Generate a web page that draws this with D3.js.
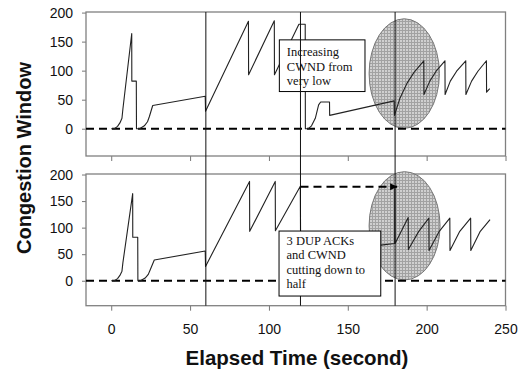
<!DOCTYPE html>
<html>
<head>
<meta charset="utf-8">
<script src="https://cdn.jsdelivr.net/npm/d3@7"></script>
<style>
  body { margin: 0; background: #fff; }
  svg { display: block; }
</style>
</head>
<body>
<svg id="chart" width="525" height="373"></svg>
<script>
// values
const xTicks = [0, 50, 100, 150, 200, 250];
const yTicks = [0, 50, 100, 150, 200];
const phaseBounds = [60, 120, 180];

const timeTop = [0, 2, 4, 5.5, 6.8, 7.4, 13, 13.05, 15.9, 16, 18, 21, 23, 24.2, 26.3, 59.6, 59.8,
    87, 87.1, 103.4, 103.5, 119, 123, 123.1, 125, 127, 129.4, 131.5, 132.8, 138.4, 138.5, 179.4, 179.6,
    183, 187.7, 192, 198.2, 198.3, 202, 206, 211.6, 211.7, 215, 219, 224.8, 224.9, 228.5, 232.5, 237.9, 238, 240];
const cwndTop = [0, 0, 4, 10, 18, 34, 164, 82, 82, 0, 0, 5, 12, 21, 40, 56, 30,
    185, 93, 186, 93, 180, 180, 0, 0, 5, 18, 41, 46, 46, 23, 48, 23,
    52, 79, 97, 117, 59, 82, 99, 117, 59, 82, 99, 117, 59, 82, 99, 117, 63, 69];

const timeBottom = [0, 2, 4, 5.5, 6.8, 7.4, 13.6, 13.65, 16.8, 16.9, 18.5, 21.5, 23.5, 24.8, 27.3, 59.6, 59.8,
    87.7, 87.8, 104, 104.1, 119.9, 120.1, 171, 179.7, 179.8, 180,
    188.3, 188.4, 195, 201.4, 201.5, 208, 214.7, 214.8, 221, 227.9, 228, 234, 240.2];
const cwndBottom = [0, 0, 4, 10, 18, 34, 164, 82, 82, 0, 0, 5, 12, 21, 39, 56, 27,
    187, 93, 187, 94, 178, 60, 67, 70, 178, 70,
    119, 59, 93, 118, 57, 93, 118, 57, 93, 118, 57, 93, 115];

const noteTop = ["Increasing", "CWND from", "very low"];
const noteBottom = ["3 DUP ACKs", "and CWND", "cutting down to", "half"];

const svg = d3.select("#chart");
const defs = svg.append("defs");

// crosshatch fill of the ellipses
const pat = defs.append("pattern")
    .attr("id", "hatch")
    .attr("width", 3).attr("height", 3)
    .attr("patternUnits", "userSpaceOnUse");
pat.append("rect").attr("width", 3).attr("height", 3).attr("fill", "#d0d0d0");
pat.append("path").attr("d", "M0,0.5H3M0.5,0V3").attr("stroke", "#a2a2a2").attr("stroke-width", 1);

defs.append("marker")
    .attr("id", "arrowhead")
    .attr("viewBox", "0 0 10 10")
    .attr("refX", 10).attr("refY", 5)
    .attr("markerWidth", 7).attr("markerHeight", 7)
    .attr("markerUnits", "userSpaceOnUse")
    .attr("orient", "auto")
    .append("path")
    .attr("d", "M0,0L10,5L0,10Z")
    .attr("fill", "#000");

const left = 86, right = 505.5;
const x = d3.scaleLinear().domain([-16, 250]).range([left, right]);

const panels = [
    { top: 12, bottom: 156, time: timeTop, cwnd: cwndTop, labels: false,
      ellipse: { t: 185.8, v: 95, rt: 22.3, rv: 94.3 } },
    { top: 174, bottom: 305.7, time: timeBottom, cwnd: cwndBottom, labels: true,
      ellipse: { t: 186, v: 103.4, rt: 22.5, rv: 102 } }
];

panels.forEach(p => {
    p.y = d3.scaleLinear().domain([-47, 201]).range([p.bottom, p.top]);
});

const font = "Liberation Sans, Arial, sans-serif";
const serif = "Liberation Serif, Times New Roman, serif";

// axes and frames
panels.forEach(p => {
    const g = svg.append("g");

    const yAxis = g.append("g")
        .attr("transform", `translate(${left},0)`)
        .call(d3.axisLeft(p.y).tickValues(yTicks).tickSize(4).tickPadding(9));
    yAxis.select(".domain").remove();
    yAxis.selectAll("line").attr("stroke", "#777");
    yAxis.selectAll("text").attr("font-family", font).attr("font-size", 14).attr("fill", "#111");

    const xAxis = g.append("g")
        .attr("transform", `translate(0,${p.bottom})`)
        .call(d3.axisBottom(x).tickValues(xTicks).tickSize(5).tickPadding(13));
    xAxis.select(".domain").remove();
    xAxis.selectAll("line").attr("stroke", "#777");
    if (p.labels) {
        xAxis.selectAll("text").attr("font-family", font).attr("font-size", 14).attr("fill", "#111");
    } else {
        xAxis.selectAll("text").remove();
    }

    g.append("rect")
        .attr("x", left).attr("y", p.top)
        .attr("width", right - left).attr("height", p.bottom - p.top)
        .attr("fill", "none")
        .attr("stroke", "#808080")
        .attr("stroke-width", 1.3);
});

// hatched ellipses
panels.forEach(p => {
    const e = p.ellipse;
    svg.append("ellipse")
        .attr("cx", x(e.t))
        .attr("cy", p.y(e.v))
        .attr("rx", x(e.t + e.rt) - x(e.t))
        .attr("ry", p.y(e.v - e.rv) - p.y(e.v))
        .attr("fill", "url(#hatch)")
        .attr("stroke", "#777")
        .attr("stroke-width", 1);
});

// zero reference lines
panels.forEach(p => {
    svg.append("line")
        .attr("x1", left).attr("x2", right)
        .attr("y1", p.y(0)).attr("y2", p.y(0))
        .attr("stroke", "#000")
        .attr("stroke-width", 2)
        .attr("stroke-dasharray", "8,5");
});

// congestion window traces
panels.forEach(p => {
    const line = d3.line()
        .x(i => x(p.time[i]))
        .y(i => p.y(p.cwnd[i]));
    svg.append("path")
        .datum(d3.range(p.time.length))
        .attr("fill", "none")
        .attr("stroke", "#222")
        .attr("stroke-width", 1.1)
        .attr("stroke-linejoin", "round")
        .attr("d", line);
});

const noteBox = (p, t0, t1, v0, v1, lines, firstBase) => {
    const g = svg.append("g");
    g.append("rect")
        .attr("x", x(t0)).attr("y", p.y(v0))
        .attr("width", x(t1) - x(t0))
        .attr("height", p.y(v1) - p.y(v0))
        .attr("fill", "#fff")
        .attr("stroke", "#000")
        .attr("stroke-width", 1);
    g.selectAll("text")
        .data(lines)
        .join("text")
        .attr("x", x(t0) + 7.5)
        .attr("y", (d, i) => p.y(v0) + firstBase + i * 14.3)
        .attr("font-family", serif)
        .attr("font-size", 12.5)
        .attr("fill", "#111")
        .text(d => d);
};

// top annotation sits under the phase lines
noteBox(panels[0], 106.6, 160.9, 153, 64, noteTop, 16.5);

// phase separators run through both panels
svg.selectAll(".phase")
    .data(phaseBounds)
    .join("line")
    .attr("class", "phase")
    .attr("x1", d => x(d)).attr("x2", d => x(d))
    .attr("y1", panels[0].top).attr("y2", panels[1].bottom)
    .attr("stroke", "#111")
    .attr("stroke-width", 1);

// dashed arrow in the lower panel
const pb = panels[1];
svg.append("line")
    .attr("x1", x(120)).attr("x2", x(181.3))
    .attr("y1", pb.y(177)).attr("y2", pb.y(177))
    .attr("stroke", "#000")
    .attr("stroke-width", 2)
    .attr("stroke-dasharray", "8,5")
    .attr("marker-end", "url(#arrowhead)");

noteBox(pb, 106.4, 170.9, 93.6, -28.8, noteBottom, 14);

// axis titles
svg.append("text")
    .attr("x", 297).attr("y", 365)
    .attr("text-anchor", "middle")
    .attr("font-family", font)
    .attr("font-weight", "bold")
    .attr("font-size", 20.5)
    .attr("fill", "#111")
    .text("Elapsed Time (second)");

svg.append("text")
    .attr("transform", "translate(31,158) rotate(-90)")
    .attr("text-anchor", "middle")
    .attr("font-family", font)
    .attr("font-weight", "bold")
    .attr("font-size", 20)
    .attr("fill", "#111")
    .text("Congestion Window");
</script>
</body>
</html>
